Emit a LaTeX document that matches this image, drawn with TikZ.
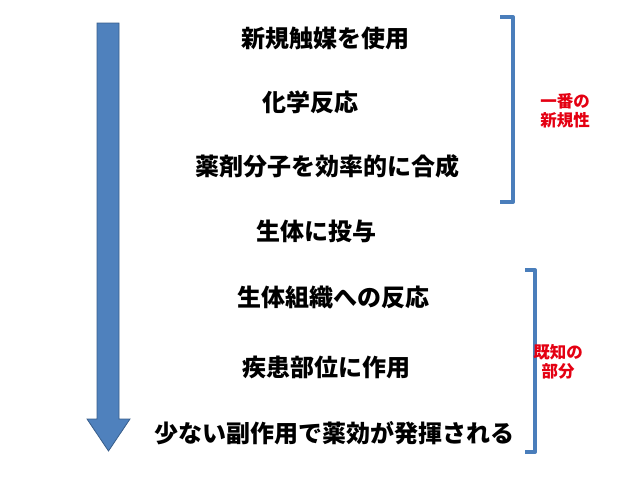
\documentclass[tikz,border=0pt]{standalone}
\usepackage{fontspec}
\newfontfamily\cjk{Noto Sans CJK JP}
\definecolor{arrowfill}{RGB}{79,129,189}
\definecolor{arrowedge}{RGB}{56,93,138}
\definecolor{brk}{RGB}{74,126,187}
\definecolor{lblred}{RGB}{228,0,18}
\begin{document}
\begin{tikzpicture}[x=1pt,y=-1pt,
  stepnode/.style={font=\cjk\bfseries\fontsize{24}{27}\selectfont, text=black, inner sep=0pt},
  lbl/.style={font=\cjk\bfseries\fontsize{16.5}{19.5}\selectfont, text=lblred, inner sep=0pt, align=center},
  bracketline/.style={draw=brk, line width=4pt, line join=round}]
\useasboundingbox (0,0) rectangle (640,480);
% big arrow
\draw[fill=arrowfill, draw=arrowedge, line width=0.8pt]
  (97,23) -- (119,23) -- (119,419) -- (130,419) -- (108.5,451) -- (87,419) -- (97,419) -- cycle;
% steps
\node[stepnode] (s1) at (325,38) {新規触媒を使用};
\node[stepnode] (s2) at (310,102) {化学反応};
\node[stepnode] (s3) at (327,166) {薬剤分子を効率的に合成};
\node[stepnode] (s4) at (316,231) {生体に投与};
\node[stepnode] (s5) at (333,297) {生体組織への反応};
\node[stepnode] (s6) at (326,367) {疾患部位に作用};
\node[stepnode] (s7) at (334,433) {少ない副作用で薬効が発揮される};
% brackets
\draw[bracketline] (500,17) -- (513,17) -- (513,202) -- (500,202);
\draw[bracketline] (525,270) -- (535,270) -- (535,452) -- (525,452);
% labels
\node[lbl] (l1) at (565,111) {一番の\\新規性};
\node[lbl] (l2) at (558,362) {既知の\\部分};
\end{tikzpicture}
\end{document}
